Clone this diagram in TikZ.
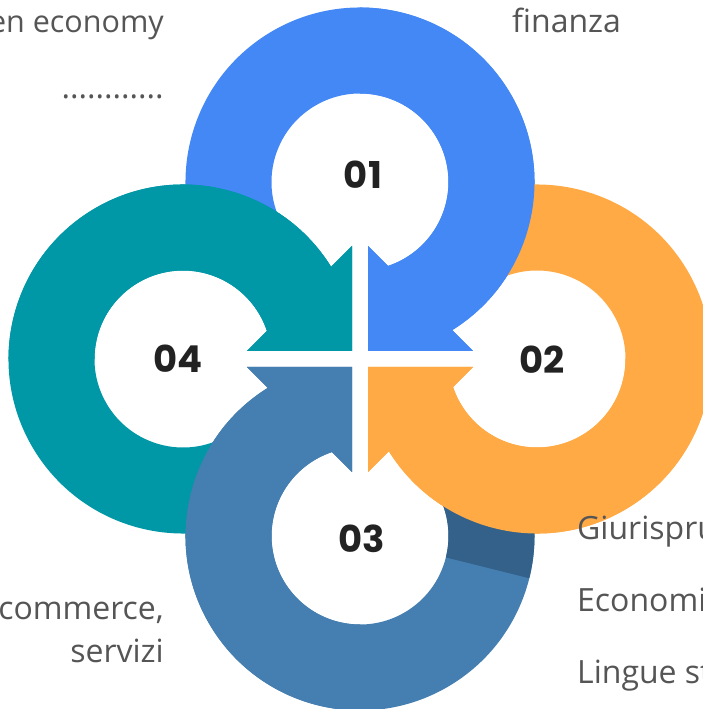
\documentclass[tikz,border=0pt]{standalone}
\usepackage{fontspec}
\setmainfont{Open Sans}
\newfontfamily\numfont{Poppins}
\usetikzlibrary{calc}
\definecolor{ringblue}{HTML}{4388F5}
\definecolor{ringorange}{HTML}{FFAA45}
\definecolor{ringsteel}{HTML}{457EB0}
\definecolor{ringteal}{HTML}{0097A7}
\definecolor{ringshade}{HTML}{336189}
\definecolor{labelgray}{HTML}{555555}
\definecolor{numblack}{HTML}{222222}

\newcommand{\ringpath}[1]{(-58.11:174.5) arc[start angle=-58.11, end angle=#1, radius=174.5pt] -- (#1:88.5) arc[start angle=#1, end angle=-71.58, radius=88.5pt] -- (8,-64) -- (8,-169) -- (113,-169) -- cycle}

\tikzset{
  ring1/.style={fill=ringblue, shift={(0,177)}},
  ring2/.style={fill=ringorange, shift={(177,0)}, rotate=-90},
  ring3/.style={fill=ringsteel, shift={(0,-177)}, rotate=180},
  ring4/.style={fill=ringteal, shift={(-177,0)}, rotate=90},
  num/.style={font=\numfont\bfseries\fontsize{37}{40}\selectfont, text=numblack, inner sep=0pt},
  lbl/.style={font=\fontsize{32}{38}\selectfont, text=labelgray, inner sep=0pt}
}

\begin{document}
\begin{tikzpicture}[x=1pt, y=1pt]
  \useasboundingbox (-360,-350) rectangle (343,359);

  \path[ring1] \ringpath{210};
  \path[ring2] \ringpath{210};
  \path[ring3] \ringpath{210};
  \path[ring3, fill=ringshade] (166:174.5) arc[start angle=166, end angle=210, radius=174.5pt] -- (210:88.5) arc[start angle=210, end angle=166, radius=88.5pt] -- cycle;
  \path[ring4] \ringpath{210};

  \path[ring1] \ringpath{90};
  \path[ring2] \ringpath{90};
  \path[ring3] \ringpath{90};
  \path[ring4] \ringpath{90};

  \node[num] (1) at (3,184) {01};
  \node[num] (2) at (182,-1) {02};
  \node[num] (3) at (2,-180) {03};
  \node[num] (4) at (-182,0) {04};

  \node[lbl, font=\fontsize{30.5}{38}\selectfont, anchor=base east] (t1) at (-196,326) {en economy};
  \node[lbl, anchor=base east] (t2) at (-196,260) {............};
  \node[lbl, anchor=base west] (t3) at (152,326) {finanza};
  \node[lbl, anchor=base east] (t4) at (-196,-260) {commerce,};
  \node[lbl, anchor=base east] (t5) at (-196,-303) {servizi};
  \node[lbl, anchor=base west] (t6) at (217,-180) {Giurispru};
  \node[lbl, anchor=base west] (t7) at (217,-252) {Economi};
  \node[lbl, anchor=base west] (t8) at (217,-324) {Lingue st};
\end{tikzpicture}
\end{document}
